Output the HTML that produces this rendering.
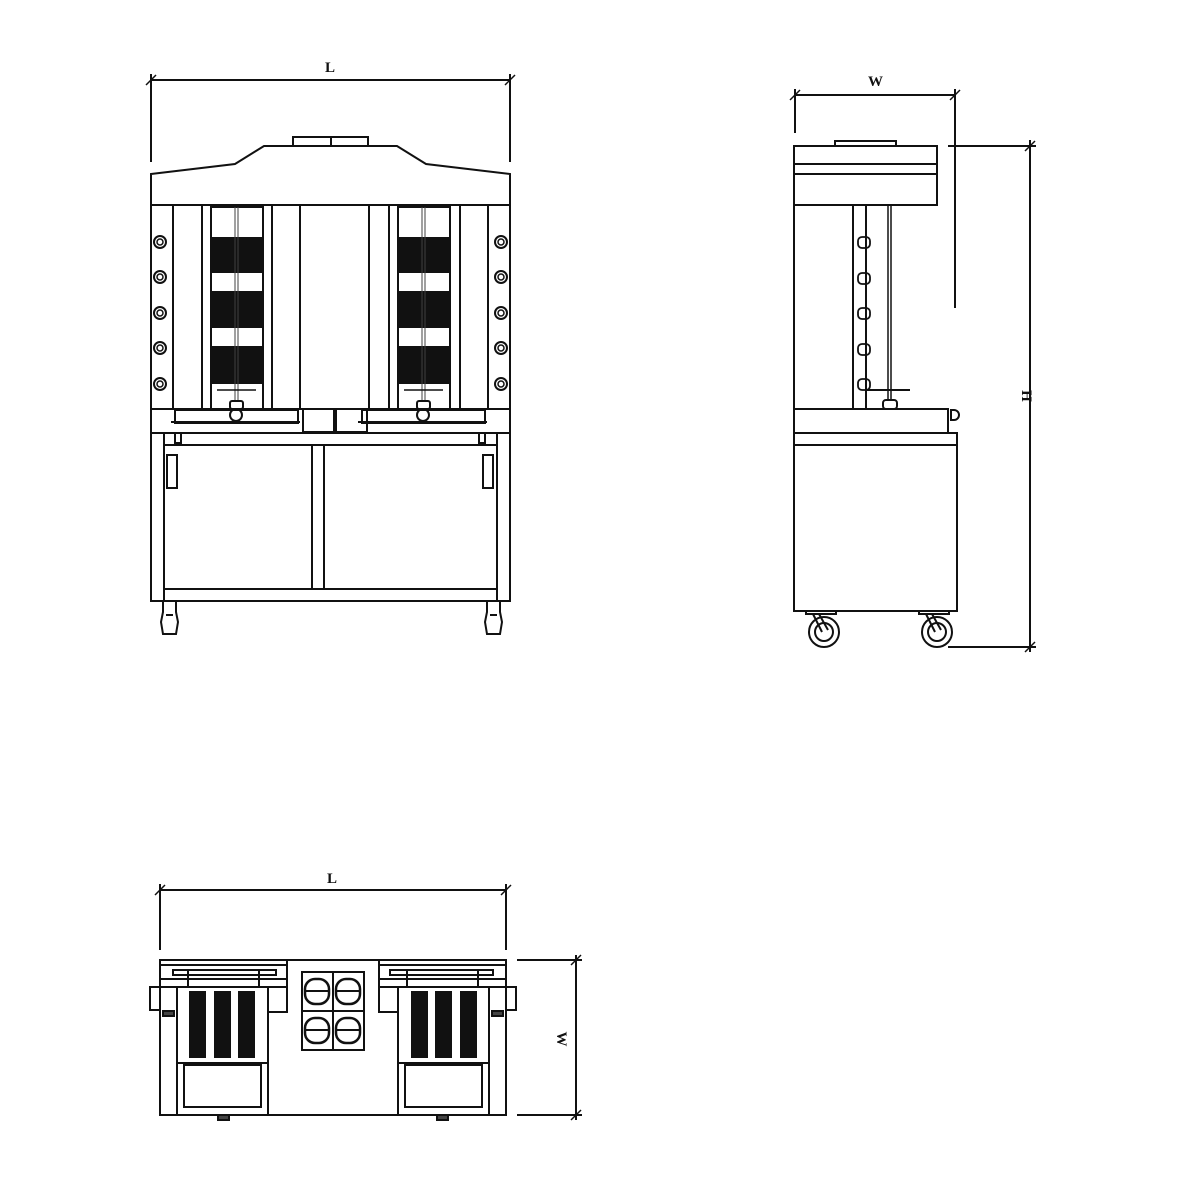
<!DOCTYPE html>
<html><head><meta charset="utf-8"><style>html,body{margin:0;padding:0;background:#fff}svg{display:block}</style></head>
<body>
<svg width="1181" height="1181" viewBox="0 0 1181 1181" xmlns="http://www.w3.org/2000/svg" fill="none" stroke="#111" stroke-width="2">
<style>text{font-family:"Liberation Serif",serif;font-weight:bold;font-size:15px;fill:#111;stroke:none}</style>
<defs>
 <g id="knob"><circle r="6"/><circle r="3" stroke-width="1.5"/></g>
 <g id="tick"><line x1="-5" y1="5" x2="5" y2="-5" stroke-width="1.5"/></g>
 <g id="panel">
  <rect x="211" y="207" width="52" height="202" stroke-width="2"/>
  <rect x="211" y="237" width="52" height="36" fill="#111" stroke="none"/>
  <rect x="211" y="291" width="52" height="37" fill="#111" stroke="none"/>
  <rect x="211" y="346" width="52" height="38" fill="#111" stroke="none"/>
  <line x1="235" y1="207" x2="235" y2="400" stroke="#fff" stroke-width="1"/>
  <line x1="238" y1="207" x2="238" y2="400" stroke="#fff" stroke-width="1"/>
  <line x1="235" y1="207" x2="235" y2="400" stroke-width="0.8"/>
  <line x1="238" y1="207" x2="238" y2="400" stroke-width="0.8"/>
  <line x1="217" y1="390" x2="256" y2="390" stroke-width="1.5"/>
  <rect x="230" y="401" width="13" height="8" rx="2"/>
  <circle cx="236" cy="415" r="6"/>
  <rect x="175" y="410" width="123" height="13"/>
  <line x1="171" y1="422" x2="300" y2="422"/>
 </g>
 <g id="topmod">
  <line x1="160" y1="965" x2="287" y2="965"/>
  <line x1="160" y1="979" x2="287" y2="979"/>
  <line x1="160" y1="987" x2="287" y2="987"/>
  <rect x="173" y="970" width="103" height="5"/>
  <line x1="188" y1="970" x2="188" y2="987"/><line x1="259" y1="970" x2="259" y2="987"/>
  <rect x="177" y="987" width="91" height="128"/>
  <line x1="177" y1="1063" x2="268" y2="1063"/>
  <rect x="189" y="991" width="17" height="67" fill="#111" stroke="none"/>
  <rect x="214" y="991" width="17" height="67" fill="#111" stroke="none"/>
  <rect x="238" y="991" width="17" height="67" fill="#111" stroke="none"/>
  <rect x="184" y="1065" width="77" height="42"/>
  <rect x="268" y="987" width="19" height="25"/>
  <line x1="287" y1="960" x2="287" y2="1012"/>
 </g>
</defs>

<!-- FRONT VIEW -->
<line x1="151" y1="80" x2="510" y2="80"/>
<line x1="151" y1="74" x2="151" y2="162"/><line x1="510" y1="74" x2="510" y2="162"/>
<use href="#tick" x="151" y="80"/><use href="#tick" x="510" y="80"/>
<text x="325" y="72">L</text>

<rect x="293" y="137" width="75" height="9"/><line x1="331" y1="137" x2="331" y2="146"/>
<polygon points="151,174 235,164 264,146 397,146 426,164 510,174 510,205 151,205"/>
<rect x="151" y="205" width="359" height="204"/>
<g stroke-width="2">
<line x1="173" y1="205" x2="173" y2="409"/><line x1="202" y1="205" x2="202" y2="409"/>
<line x1="272" y1="205" x2="272" y2="409"/><line x1="300" y1="205" x2="300" y2="409"/>
<line x1="369" y1="205" x2="369" y2="409"/><line x1="389" y1="205" x2="389" y2="409"/>
<line x1="460" y1="205" x2="460" y2="409"/><line x1="488" y1="205" x2="488" y2="409"/>
</g>
<use href="#panel"/>
<use href="#panel" x="187"/>
<use href="#knob" x="160" y="242"/><use href="#knob" x="160" y="277"/><use href="#knob" x="160" y="313"/><use href="#knob" x="160" y="348"/><use href="#knob" x="160" y="384"/>
<use href="#knob" x="501" y="242"/><use href="#knob" x="501" y="277"/><use href="#knob" x="501" y="313"/><use href="#knob" x="501" y="348"/><use href="#knob" x="501" y="384"/>
<rect x="151" y="409" width="359" height="24"/>
<rect x="303" y="409" width="31" height="23"/><rect x="336" y="409" width="31" height="23"/>
<rect x="151" y="433" width="359" height="168"/>
<line x1="164" y1="433" x2="164" y2="601"/><line x1="497" y1="433" x2="497" y2="601"/>
<line x1="164" y1="445" x2="497" y2="445"/>
<line x1="164" y1="589" x2="497" y2="589"/>
<line x1="312" y1="445" x2="312" y2="589"/><line x1="324" y1="445" x2="324" y2="589"/>
<rect x="167" y="455" width="10" height="33"/><rect x="483" y="455" width="10" height="33"/>
<rect x="175" y="433" width="6" height="10"/><rect x="479" y="433" width="6" height="10"/>
<path d="M163 601 L163 612 L161 622 L163 634 L176 634 L178 622 L176 612 L176 601"/>
<line x1="166" y1="615" x2="173" y2="615"/>
<path d="M487 601 L487 612 L485 622 L487 634 L500 634 L502 622 L500 612 L500 601"/>
<line x1="490" y1="615" x2="497" y2="615"/>

<!-- SIDE VIEW -->
<line x1="795" y1="95" x2="955" y2="95"/>
<line x1="795" y1="89" x2="795" y2="133"/><line x1="955" y1="89" x2="955" y2="308"/>
<use href="#tick" x="795" y="95"/><use href="#tick" x="955" y="95"/>
<text x="868" y="86">W</text>
<line x1="1030" y1="140" x2="1030" y2="652"/>
<line x1="948" y1="146" x2="1036" y2="146"/><line x1="948" y1="647" x2="1036" y2="647"/>
<use href="#tick" x="1030" y="146"/><use href="#tick" x="1030" y="647"/>
<text x="0" y="0" transform="translate(1022,396) rotate(90)" text-anchor="middle">H</text>

<rect x="835" y="141" width="61" height="5"/>
<rect x="794" y="146" width="143" height="59"/>
<line x1="794" y1="164" x2="937" y2="164"/><line x1="794" y1="174" x2="937" y2="174"/>
<line x1="794" y1="205" x2="794" y2="409"/>
<line x1="853" y1="205" x2="853" y2="409"/><line x1="866" y1="205" x2="866" y2="409"/>
<line x1="888" y1="205" x2="888" y2="400" stroke-width="1.5"/><line x1="891" y1="205" x2="891" y2="400" stroke-width="1.5"/>
<g stroke-width="1.8">
<rect x="858" y="237" width="12" height="11" rx="4"/><rect x="858" y="273" width="12" height="11" rx="4"/>
<rect x="858" y="308" width="12" height="11" rx="4"/><rect x="858" y="344" width="12" height="11" rx="4"/>
<rect x="858" y="379" width="12" height="11" rx="4"/>
</g>
<line x1="866" y1="390" x2="910" y2="390"/>
<rect x="883" y="400" width="14" height="9" rx="3"/>
<rect x="794" y="409" width="154" height="24"/>
<path d="M951 410 L951 420 L954 420 A5 5 0 0 0 954 410 Z"/>
<rect x="794" y="433" width="163" height="178"/>
<line x1="794" y1="445" x2="957" y2="445"/>
<rect x="806" y="611" width="30" height="3"/><rect x="919" y="611" width="30" height="3"/>
<circle cx="824" cy="632" r="15"/><circle cx="824" cy="632" r="9"/>
<path d="M813 614 L822 632 M819 614 L828 630"/>
<circle cx="937" cy="632" r="15"/><circle cx="937" cy="632" r="9"/>
<path d="M926 614 L935 632 M932 614 L941 630"/>

<!-- TOP VIEW -->
<line x1="160" y1="890" x2="506" y2="890"/>
<line x1="160" y1="884" x2="160" y2="950"/><line x1="506" y1="884" x2="506" y2="950"/>
<use href="#tick" x="160" y="890"/><use href="#tick" x="506" y="890"/>
<text x="327" y="883">L</text>
<line x1="576" y1="955" x2="576" y2="1120"/>
<line x1="517" y1="960" x2="582" y2="960"/><line x1="517" y1="1115" x2="582" y2="1115"/>
<use href="#tick" x="576" y="960"/><use href="#tick" x="576" y="1115"/>
<text x="0" y="0" transform="translate(557,1039) rotate(90)" text-anchor="middle">W</text>

<rect x="160" y="960" width="346" height="155"/>
<use href="#topmod"/>
<g transform="translate(666,0) scale(-1,1)"><use href="#topmod"/></g>
<rect x="150" y="987" width="10" height="23"/><rect x="506" y="987" width="10" height="23"/>
<rect x="163" y="1011" width="11" height="5" fill="#444"/><rect x="492" y="1011" width="11" height="5" fill="#444"/>
<rect x="218" y="1115" width="11" height="5" fill="#444"/><rect x="437" y="1115" width="11" height="5" fill="#444"/>
<rect x="302" y="972" width="62" height="78"/>
<line x1="333" y1="972" x2="333" y2="1050"/><line x1="302" y1="1011" x2="364" y2="1011"/>
<g stroke-width="2.5">
<rect x="305" y="979" width="24" height="25" rx="10"/><rect x="336" y="979" width="24" height="25" rx="10"/>
<rect x="305" y="1018" width="24" height="25" rx="10"/><rect x="336" y="1018" width="24" height="25" rx="10"/>
</g>
<line x1="305" y1="991" x2="329" y2="991"/><line x1="336" y1="991" x2="360" y2="991"/>
<line x1="305" y1="1030" x2="329" y2="1030"/><line x1="336" y1="1030" x2="360" y2="1030"/>
</svg>
</body></html>
